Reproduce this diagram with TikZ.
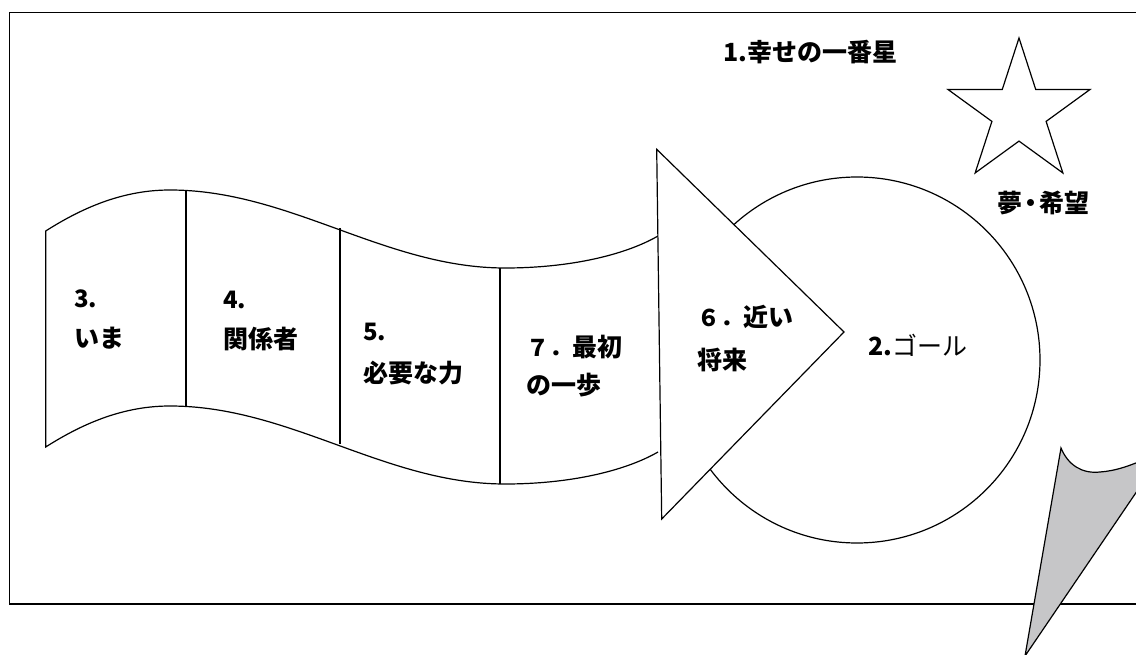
\documentclass[tikz,border=0pt]{standalone}
\usepackage{fontspec}
\setmainfont{Noto Sans CJK JP}
\definecolor{greyc}{RGB}{198,198,200}
\newcommand{\fwnum}[1]{{\fontsize{23}{26}\selectfont #1}}
\begin{document}
\begin{tikzpicture}[x=1pt,y=-1pt,
  ln/.style={line width=1.2pt, line join=miter},
  lbl/.style={anchor=west, inner sep=0pt, font=\fontsize{25}{30}\selectfont\bfseries},
  num/.style={anchor=west, inner sep=0pt, font=\fontsize{24}{28}\selectfont\bfseries},
  reg/.style={anchor=west, inner sep=0pt, font=\fontsize{25}{30}\selectfont}]
\useasboundingbox (0,0) rectangle (1136,655);
\clip (0,0) rectangle (1136,655);
% frame
\draw[line width=1.5pt] (9.5,12.5) rectangle (1250,604);
% wave
\draw[ln] (658,236) .. controls (625,255) and (570,268) .. (505,268)
  .. controls (385,268) and (290,190) .. (170,190)
  .. controls (125,190) and (85,206) .. (45.7,231)
  -- (45.7,447)
  .. controls (85,422) and (125,406) .. (170,406)
  .. controls (290,406) and (385,484) .. (505,484)
  .. controls (570,484) and (625,471) .. (658,452);
\draw[ln] (186,190.5) -- (186,406.5);
\draw[ln] (340,228) -- (340,444);
\draw[ln] (500,268) -- (500,484);
% goal circle
\node[circle, draw, line width=1.2pt, minimum size=366pt, inner sep=0pt] (goal) at (857,360) {};
% arrow triangle
\filldraw[ln, fill=white] (656.7,149.3) -- (844,332) -- (661.7,519) -- cycle;
% grey pointer
\filldraw[ln, fill=greyc] (1061,448) .. controls (1068,465) and (1082,474) .. (1100,472)
  .. controls (1115,471) and (1130,466) .. (1150,457)
  -- (1150,472) -- (1025,656) -- cycle;
% star
\begin{scope}[shift={(1019,112.6)}]
\draw[ln] (-90:74.6) -- (-54:28.5) -- (-18:74.6) -- (18:28.5) -- (54:74.6)
  -- (90:28.5) -- (126:74.6) -- (162:28.5) -- (198:74.6) -- (234:28.5) -- cycle;
\end{scope}
% texts
\node[lbl] (t1) at (723,52) {1.幸せの一番星};
\node[lbl] (dream) at (997,203) {夢\kern-4pt・\kern-4pt希望};
\node[num] (t3a) at (74,299) {3.};
\node[lbl] (t3b) at (74,338) {いま};
\node[num] (t4a) at (223,300) {4.};
\node[lbl] (t4b) at (223,339) {関係者};
\node[num] (t5a) at (363,332) {5.};
\node[lbl] (t5b) at (363,373) {必要な力};
\node[lbl] (t7a) at (526,347) {\fwnum{７．}最初};
\node[lbl] (t7b) at (526,385) {の一歩};
\node[lbl] (t6a) at (697,317) {\fwnum{６．}近い};
\node[lbl] (t6b) at (697,360) {将来};
\node[reg] (t2) at (868,345) {\textbf{2.}ゴール};
\end{tikzpicture}
\end{document}
